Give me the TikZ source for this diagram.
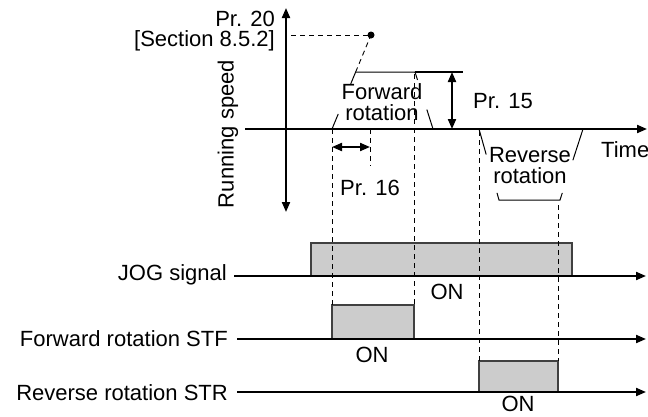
\documentclass[tikz,border=0pt]{standalone}
\usepackage{fontspec}
\setmainfont{Liberation Sans}
\usetikzlibrary{arrows.meta,calc}
\begin{document}
\begin{tikzpicture}[x=1pt,y=-1pt,
  axis/.style={line width=2pt,-{Triangle[length=10pt,width=8pt]}},
  daxis/.style={line width=2pt,{Triangle[length=10pt,width=8pt]}-{Triangle[length=10pt,width=8pt]}},
  guide/.style={line width=0.9pt,dash pattern=on 5pt off 4pt},
  curve/.style={line width=1pt},
  sigbox/.style={fill=black!20,draw=black!75,line width=1.3pt},
  lbl/.style={font=\fontsize{22}{21}\selectfont,inner sep=0pt,align=center}]
\useasboundingbox (0,0) rectangle (648,416);

% ---------- speed diagram ----------
\coordinate (vtop) at (286,8);
\coordinate (vbot) at (286,212);
\coordinate (hl) at (245,129);
\coordinate (hr) at (647,129);
\draw[daxis] (vbot) -- (vtop);
\draw[axis] (hl) -- (hr);
\node[lbl,anchor=base west] (time) at (601,157) {Time};
\node[lbl,rotate=90] (rs) at (228,134) {Running speed};
\node[lbl,anchor=base east] (pr20) at (275,26) {Pr. 20};
\node[lbl,anchor=base east] (sec) at (275,46) {[Section 8.5.2]};

% Pr. 20 point
\coordinate (dot) at (371,35);
\coordinate (dotl) at (291,35);
\fill (dot) circle (3.5pt);
\draw[guide] (dotl) -- (dot);

% forward trapezoid
\coordinate (fa) at (332,129);
\coordinate (ftl) at ($(fa)!0.606!(dot)$);
\coordinate (ftr) at (415,72);
\coordinate (fb) at (433,129);
\draw[curve] (fa) -- ($(fa)!0.16!(dot)$);
\draw[curve] ($(fa)!0.48!(dot)$) -- (ftl) -- (ftr) -- ($(ftr)!0.14!(fb)$);
\draw[curve] ($(ftr)!0.66!(fb)$) -- (fb);
\draw[guide] (ftl) -- (dot);
\node[lbl] (fwd) at (382,102) {Forward\\rotation};

% Pr. 15
\coordinate (p15r) at (463,72);
\coordinate (p15t) at (452,72);
\coordinate (p15b) at (452,129);
\draw[line width=2pt] (ftr) -- (p15r);
\draw[daxis] (p15t) -- (p15b);
\node[lbl,anchor=base] (pr15) at (503,108) {Pr. 15};

% Pr. 16
\coordinate (p16l) at (332,147);
\coordinate (p16r) at (370,147);
\draw[daxis] (p16l) -- (p16r);
\coordinate (d16t) at (370,129);
\coordinate (d16b) at (370,166);
\draw[guide] (d16t) -- (d16b);
\node[lbl,anchor=base] (pr16) at (370,195) {Pr. 16};

% reverse trapezoid
\coordinate (ra) at (479,129);
\coordinate (rbl) at (499,200);
\coordinate (rbr) at (560,200);
\coordinate (rb) at (583,129);
\draw[curve] (ra) -- ($(ra)!0.36!(rbl)$);
\draw[curve] ($(ra)!0.9!(rbl)$) -- (rbl) -- (rbr) -- ($(rbr)!0.1!(rb)$);
\draw[curve] ($(rbr)!0.56!(rb)$) -- (rb);
\node[lbl] (rev) at (530,166) {Reverse\\rotation};

% ---------- signals ----------
\coordinate (jl) at (234,276);
\coordinate (jr) at (646,276);
\coordinate (fl) at (237,339);
\coordinate (fr) at (646,339);
\coordinate (sl) at (237,392);
\coordinate (sr) at (646,392);

\draw[sigbox] (311,276) rectangle (572,243);
\draw[sigbox] (332,339) rectangle (414,305);
\draw[sigbox] (479,392) rectangle (558,361);

\draw[axis] (jl) -- (jr);
\draw[axis] (fl) -- (fr);
\draw[axis] (sl) -- (sr);

\node[lbl,anchor=base east] (jog) at (227,280) {JOG signal};
\node[lbl,anchor=base east] (stf) at (228,346) {Forward rotation STF};
\node[lbl,anchor=base east] (str) at (228,400) {Reverse rotation STR};

\node[lbl,anchor=base] (on1) at (447,299) {ON};
\node[lbl,anchor=base] (on2) at (372,362) {ON};
\node[lbl,anchor=base] (on3) at (518,411) {ON};

% dashed guides
\coordinate (g1t) at (332,129);
\coordinate (g1b) at (332,305);
\coordinate (g2t) at (414,74);
\coordinate (g2b) at (414,305);
\coordinate (g3t) at (479,131);
\coordinate (g3b) at (479,361);
\coordinate (g4t) at (558,205);
\coordinate (g4b) at (558,361);
\draw[guide] (g1t) -- (g1b);
\draw[guide] (g2t) -- (g2b);
\draw[guide] (g3t) -- (g3b);
\draw[guide] (g4t) -- (g4b);
\end{tikzpicture}
\end{document}
